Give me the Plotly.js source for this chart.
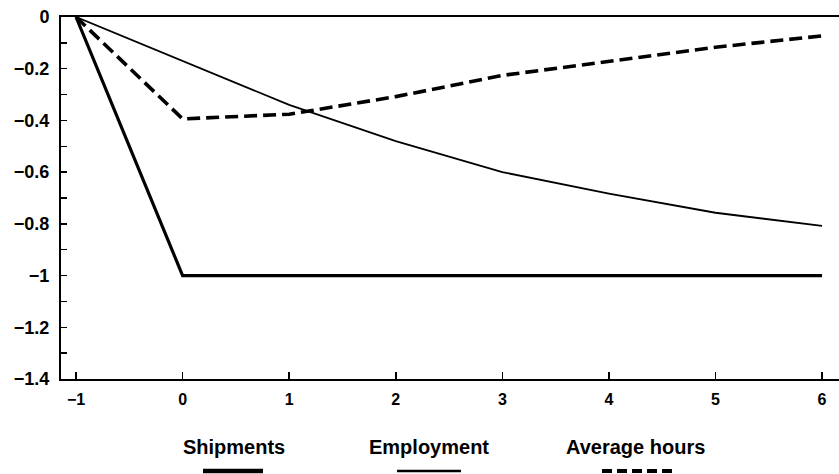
<!DOCTYPE html>
<html>
<head>
<meta charset="utf-8">
<script src="https://cdn.plot.ly/plotly-3.0.1.min.js"></script>
<style>html,body{margin:0;padding:0;background:#fff;}#chart{width:839px;height:474px;}</style>
</head>
<body>
<div id="chart"></div>
<script>
const periods = [-1, 0, 1, 2, 3, 4, 5, 6];
const shipments = [0, -1.0, -1.0, -1.0, -1.0, -1.0, -1.0, -1.0];
const employment = [0, -0.17, -0.34, -0.48, -0.60, -0.683, -0.757, -0.808];
const averageHours = [0, -0.394, -0.376, -0.308, -0.226, -0.170, -0.117, -0.073];
const seriesNames = ["Shipments", "Employment", "Average hours"];
const yTickVals = [0, -0.2, -0.4, -0.6, -0.8, -1.0, -1.2, -1.4];
const yTickText = ["0", "\u22120.2", "\u22120.4", "\u22120.6", "\u22120.8", "\u22121", "\u22121.2", "\u22121.4"];
const xTickVals = [-1, 0, 1, 2, 3, 4, 5, 6];
const xTickText = ["\u22121", "0", "1", "2", "3", "4", "5", "6"];

const styles = [
  {width: 3.2, dash: "solid"},
  {width: 1.8, dash: "solid"},
  {width: 3.6, dash: "13px,6px"}
];
const ys = [shipments, employment, averageHours];
const traces = ys.map((y, i) => ({
  x: periods, y: y, type: "scatter", mode: "lines", name: seriesNames[i],
  line: {color: "#000", width: styles[i].width, dash: styles[i].dash},
  showlegend: false, hoverinfo: "skip"
}));

const legendX = [0.2224, 0.4724, 0.7378];
const legendSeg = [[0.1825, 0.2596], [0.4319, 0.5141], [0.6954, 0.7853]];
const legendW = [4.5, 2.5, 4];
const annotations = seriesNames.map((n, i) => ({
  text: n, xref: "paper", yref: "paper", x: legendX[i], y: -0.188,
  showarrow: false, xanchor: "center", yanchor: "middle",
  font: {family: "Liberation Sans, Arial, sans-serif", size: 20, color: "#000", weight: "bold"}
}));
const shapes = legendSeg.map((s, i) => ({
  type: "line", xref: "paper", yref: "paper", x0: s[0], x1: s[1], y0: -0.254, y1: -0.254,
  line: {color: "#000", width: legendW[i], dash: i === 2 ? "10px,5px" : "solid"}
}));

const xTickFont = {family: "Liberation Sans, Arial, sans-serif", size: 16, color: "#000", weight: "bold"};
const yTickFont = {family: "Liberation Sans, Arial, sans-serif", size: 18, color: "#000", weight: "bold"};
const layout = {
  width: 839, height: 474,
  margin: {l: 61, r: 0, t: 17, b: 95},
  paper_bgcolor: "#fff", plot_bgcolor: "#fff",
  xaxis: {
    range: [-1.141, 6.159], tickvals: xTickVals, ticktext: xTickText,
    showgrid: false, zeroline: false, showline: true, linecolor: "#000", linewidth: 2,
    mirror: true, ticks: "inside", ticklen: 7, tickwidth: 1.5, tickcolor: "#000",
    tickfont: xTickFont, ticklabelstandoff: 5
  },
  yaxis: {
    range: [-1.4, 0], tickvals: yTickVals, ticktext: yTickText,
    showgrid: false, zeroline: false, showline: true, linecolor: "#000", linewidth: 2,
    ticks: "inside", ticklen: 6, tickwidth: 1.5, tickcolor: "#000",
    tickfont: yTickFont, ticklabelstandoff: 6,
    minor: {dtick: 0.1, ticks: "inside", ticklen: 6, tickwidth: 1.5, tickcolor: "#000", showgrid: false}
  },
  annotations: annotations,
  shapes: shapes,
  showlegend: false
};
Plotly.newPlot("chart", traces, layout, {staticPlot: true, displayModeBar: false});
</script>
</body>
</html>
